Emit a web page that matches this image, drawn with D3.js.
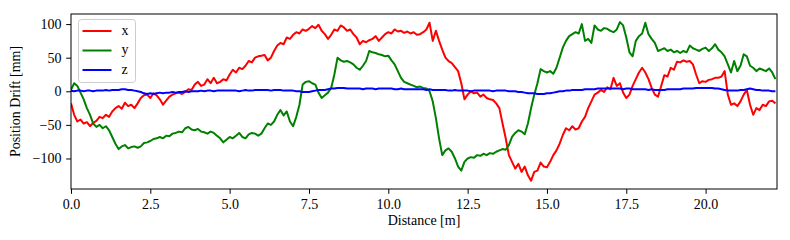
<!DOCTYPE html>
<html>
<head>
<meta charset="utf-8">
<script src="https://cdn.jsdelivr.net/npm/d3@7"></script>
<style>
  body { margin: 0; background: #fff; }
  svg text { font-family: "Liberation Serif", "DejaVu Serif", serif; }
</style>
</head>
<body>
<div id="chart"><svg id="chart_svg"></svg></div>
<script>
// distance along the path [m]
var distance = [
  0.0,0.1,0.2,0.3,0.4,0.5,0.6,0.7,0.8,0.9,
  1.0,1.1,1.2,1.3,1.4,1.5,1.6,1.7,1.8,1.9,
  2.0,2.1,2.2,2.3,2.4,2.5,2.6,2.7,2.8,2.9,
  3.0,3.1,3.2,3.3,3.4,3.5,3.6,3.7,3.8,3.9,
  4.0,4.1,4.2,4.3,4.4,4.5,4.6,4.7,4.8,4.9,
  5.0,5.1,5.2,5.3,5.4,5.5,5.6,5.7,5.8,5.9,
  6.0,6.1,6.2,6.3,6.4,6.5,6.6,6.7,6.8,6.9,
  7.0,7.1,7.2,7.3,7.4,7.5,7.6,7.7,7.8,7.9,
  8.0,8.1,8.2,8.3,8.4,8.5,8.6,8.7,8.8,8.9,
  9.0,9.1,9.2,9.3,9.4,9.5,9.6,9.7,9.8,9.9,
  10.0,10.1,10.2,10.3,10.4,10.5,10.6,10.7,10.8,10.9,
  11.0,11.1,11.2,11.3,11.4,11.5,11.6,11.7,11.8,11.9,
  12.0,12.1,12.2,12.3,12.4,12.5,12.6,12.7,12.8,12.9,
  13.0,13.1,13.2,13.3,13.4,13.5,13.6,13.7,13.8,13.9,
  14.0,14.1,14.2,14.3,14.4,14.5,14.6,14.7,14.8,14.9,
  15.0,15.1,15.2,15.3,15.4,15.5,15.6,15.7,15.8,15.9,
  16.0,16.1,16.2,16.3,16.4,16.5,16.6,16.7,16.8,16.9,
  17.0,17.1,17.2,17.3,17.4,17.5,17.6,17.7,17.8,17.9,
  18.0,18.1,18.2,18.3,18.4,18.5,18.6,18.7,18.8,18.9,
  19.0,19.1,19.2,19.3,19.4,19.5,19.6,19.7,19.8,19.9,
  20.0,20.1,20.2,20.3,20.4,20.5,20.6,20.7,20.8,20.9,
  21.0,21.1,21.2,21.3,21.4,21.5,21.6,21.7,21.8,21.9,
  22.0,22.1,22.2
];

// drift [mm]
var drift_x = [
  -18,-35,-45,-42,-48,-46,-52,-47,-44,-38,
  -40,-35,-38,-30,-25,-22,-26,-17,-22,-20,
  -25,-18,-10,-6,-5,-10,-3,-6,-12,-20,
  -14,-8,-5,-3,-2,-4,-1,3,2,10,
  14,8,10,18,12,20,12,14,18,16,
  25,32,28,35,33,38,45,43,50,52,
  53,54,46,50,60,68,72,70,80,78,
  84,88,86,92,90,93,97,94,99,90,
  85,78,84,92,90,98,95,90,92,85,
  80,70,75,73,76,78,82,75,80,85,
  88,86,92,89,90,87,89,86,88,84,
  85,88,92,102,75,90,75,62,50,45,
  42,36,30,12,-12,-5,0,-3,-2,-8,
  -5,-10,-12,-13,-18,-25,-48,-70,-95,-105,
  -115,-108,-120,-112,-125,-133,-120,-118,-106,-112,
  -113,-105,-95,-88,-78,-65,-55,-58,-52,-57,
  -55,-45,-38,-25,-15,-5,-2,2,-1,6,
  3,20,8,12,-2,-10,-5,8,18,28,
  35,28,18,5,-5,-8,8,24,22,35,
  32,44,43,46,44,45,40,25,12,15,
  14,17,18,20,20,22,30,-5,-20,-18,
  -22,-15,-5,2,-20,-35,-25,-28,-20,-22,
  -15,-14,-18
];

var drift_y = [
  2,12,8,-2,-12,-25,-35,-48,-53,-50,
  -55,-52,-58,-68,-78,-86,-82,-80,-85,-83,
  -82,-84,-82,-77,-76,-74,-71,-70,-68,-70,
  -66,-67,-63,-62,-60,-61,-55,-53,-57,-58,
  -56,-60,-61,-63,-60,-62,-66,-70,-76,-72,
  -68,-70,-66,-62,-68,-70,-64,-62,-63,-66,
  -63,-55,-48,-50,-45,-35,-28,-36,-30,-45,
  -52,-38,-20,10,14,15,12,10,-2,-10,
  -6,-2,5,25,50,46,44,45,43,40,
  35,32,38,45,60,58,57,55,54,52,
  53,46,40,30,20,14,12,10,8,6,
  7,5,4,0,-15,-40,-70,-95,-88,-85,
  -90,-100,-112,-118,-105,-100,-98,-99,-95,-96,
  -93,-95,-92,-93,-90,-88,-86,-87,-80,-68,
  -62,-58,-60,-64,-48,-25,-5,12,33,30,
  28,30,26,35,50,65,75,82,85,88,
  86,100,75,78,72,98,92,90,94,93,
  90,88,92,103,98,80,58,52,75,82,
  86,102,85,78,72,60,62,64,60,62,
  58,60,57,60,58,68,64,62,60,63,
  65,60,64,70,62,58,52,40,28,45,
  30,38,55,52,38,35,30,34,32,30,
  34,28,18
];

var drift_z = [
  1,0,1,1,0,1,1,0,1,1,
  1,2,1,2,2,2,3,3,2,2,
  1,0,-1,-3,-4,-3,-4,-3,-2,-3,
  -2,-2,-1,-2,-1,-1,0,-1,0,0,
  0,1,0,1,1,0,1,1,1,1,
  1,1,1,0,1,2,1,1,2,2,
  2,2,2,1,2,2,2,1,1,1,
  1,0,0,-1,-1,-1,0,1,2,2,
  2,3,4,4,5,5,5,4,4,4,
  4,4,3,4,4,4,3,4,4,4,
  4,4,3,3,4,3,3,3,3,3,
  3,3,2,3,2,2,2,2,2,1,
  1,2,1,1,1,1,0,1,1,1,
  1,1,1,0,1,1,1,1,0,0,
  0,-1,-1,-2,-3,-3,-3,-4,-4,-4,
  -3,-3,-2,-1,0,0,1,1,2,2,
  2,2,3,3,3,3,4,4,4,4,
  4,4,4,4,3,4,4,3,3,3,
  3,3,2,3,2,2,2,2,3,3,
  3,3,3,4,4,4,4,5,5,5,
  5,5,5,4,4,3,2,1,1,1,
  1,2,2,3,4,3,2,2,1,1,
  1,0,0
];

var series_names = ["x", "y", "z"];
var series_colors = ["#ff0000", "#008000", "#0000ff"];
var x_ticks = [0, 2.5, 5, 7.5, 10, 12.5, 15, 17.5, 20];
var y_ticks = [-100, -50, 0, 50, 100];

var svgWidth = 790, svgHeight = 240;
var margin = { top: 14, right: 13, bottom: 51, left: 71 };
var chartWidth = svgWidth - margin.left - margin.right;
var chartHeight = svgHeight - margin.top - margin.bottom;
var fontSize = 14;

var svg = d3.select("#chart_svg")
    .attr("width", svgWidth)
    .attr("height", svgHeight);

var chart = svg.append("g")
    .attr("transform", `translate(${margin.left}, ${margin.top})`);

var xScale = d3.scaleLinear().domain([0, 22.25]).range([0, chartWidth]);
var yScale = d3.scaleLinear().domain([-145.4, 115]).range([chartHeight, 0]);

chart.append("clipPath")
    .attr("id", "plot-clip")
    .append("rect")
    .attr("width", chartWidth)
    .attr("height", chartHeight);

var series = [drift_x, drift_y, drift_z].map(function (vals, i) {
    return {
        name: series_names[i],
        color: series_colors[i],
        points: vals.map(function (v, j) { return { d: distance[j], v: v }; })
    };
});

var line = d3.line()
    .x(d => xScale(d.d))
    .y(d => yScale(d.v));

chart.append("g")
    .attr("clip-path", "url(#plot-clip)")
    .selectAll("path")
    .data(series)
    .join("path")
    .attr("d", d => line(d.points))
    .attr("fill", "none")
    .attr("stroke", d => d.color)
    .attr("stroke-width", 2)
    .attr("stroke-linejoin", "round");

// axes
var xAxis = chart.append("g")
    .attr("transform", `translate(0, ${chartHeight})`)
    .call(d3.axisBottom(xScale).tickValues(x_ticks).tickFormat(d3.format(".1f"))
        .tickSize(4.8).tickPadding(4.8).tickSizeOuter(0));

var yAxis = chart.append("g")
    .call(d3.axisLeft(yScale).tickValues(y_ticks).tickFormat(d3.format("d"))
        .tickSize(4.8).tickPadding(4.8).tickSizeOuter(0));

[xAxis, yAxis].forEach(function (ax) {
    ax.select(".domain").remove();
    ax.selectAll("line").attr("stroke", "#000").attr("stroke-width", 1);
    ax.selectAll("text").attr("font-size", fontSize).attr("fill", "#000")
        .attr("font-family", "'Liberation Serif', 'DejaVu Serif', serif");
});

// frame
chart.append("rect")
    .attr("width", chartWidth)
    .attr("height", chartHeight)
    .attr("fill", "none")
    .attr("stroke", "#000")
    .attr("stroke-width", 1);

// axis labels
svg.append("text")
    .attr("x", margin.left + chartWidth / 2)
    .attr("y", 225)
    .attr("text-anchor", "middle")
    .attr("font-size", fontSize)
    .text("Distance [m]");

svg.append("text")
    .attr("transform", `translate(20, ${margin.top + chartHeight / 2}) rotate(-90)`)
    .attr("text-anchor", "middle")
    .attr("font-size", fontSize)
    .text("Position Drift [mm]");

// legend
var legend = svg.append("g").attr("transform", "translate(78.5, 19.5)");

legend.append("rect")
    .attr("width", 57)
    .attr("height", 63)
    .attr("rx", 3)
    .attr("fill", "#fff")
    .attr("fill-opacity", 0.8)
    .attr("stroke", "#cccccc")
    .attr("stroke-width", 1);

var items = legend.selectAll("g.item")
    .data(series)
    .join("g")
    .attr("class", "item")
    .attr("transform", (d, i) => `translate(0, ${11.5 + i * 19.5})`);

items.append("line")
    .attr("x1", 4)
    .attr("x2", 33)
    .attr("stroke", d => d.color)
    .attr("stroke-width", 2);

items.append("text")
    .attr("x", 43)
    .attr("dy", "0.25em")
    .attr("font-size", fontSize)
    .text(d => d.name);
</script>
</body>
</html>
